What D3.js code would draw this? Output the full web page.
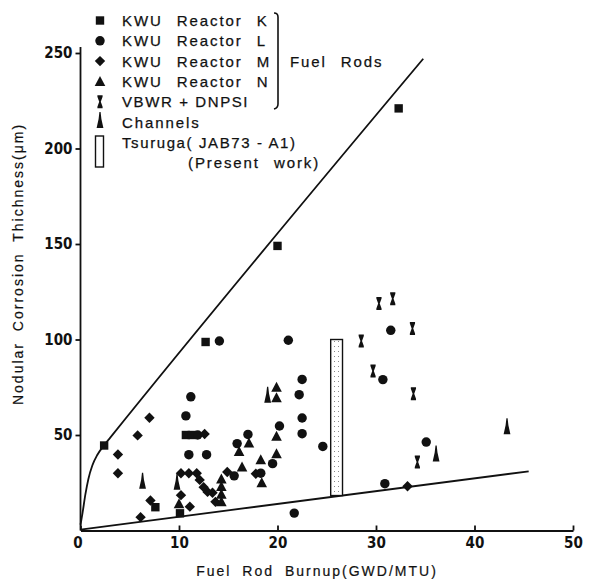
<!DOCTYPE html>
<html>
<head>
<meta charset="utf-8">
<script src="https://cdn.jsdelivr.net/npm/d3@7"></script>
<style>
  body { margin: 0; background: #fff; }
  svg { display: block; }
  .lbl { font-family: "Liberation Sans", Arial, sans-serif; font-size: 15px; letter-spacing: 1.9px; word-spacing: 8px; fill: #111; stroke: #111; stroke-width: 0.25px; }
  .lbl.tight { word-spacing: 0px; letter-spacing: 1.6px; }
  .ttl { font-family: "Liberation Sans", Arial, sans-serif; font-size: 14px; letter-spacing: 2px; word-spacing: 5px; fill: #111; stroke: #111; stroke-width: 0.2px; }
  .tick text { font-family: "DejaVu Sans Condensed", "DejaVu Sans", sans-serif; font-weight: bold; font-size: 15px; fill: #111; }
</style>
</head>
<body>
<svg id="chart" width="601" height="584"></svg>
<script>
// data: [burnup GWD/MTU, thickness um]
const reactorK = [[2.4, 44.5], [7.6, 12.2], [10.7, 50], [11.3, 50], [12.7, 98.7], [20.0, 149], [32.3, 221], [10.1, 9]];
const reactorL = [[14.1, 99.2], [11.2, 70], [10.7, 60], [11.9, 50], [11.0, 39.7], [12.8, 39.7], [21.1, 99.6],
  [22.5, 79.1], [22.2, 71.1], [22.5, 58.9], [20.2, 54.7], [22.5, 50.7], [17.0, 50.3], [15.9, 45.5],
  [24.6, 44], [21.7, 9.1], [31.5, 104.8], [30.7, 79], [35.1, 46.3], [30.9, 24.5], [19.5, 35], [18.3, 30], [15.6, 28.6]];
const reactorM = [[5.8, 49.8], [7.0, 59], [3.8, 39.8], [3.8, 30], [7.1, 15.7], [6.1, 7], [12.6, 50.5],
  [10.2, 30], [11.0, 30], [11.8, 30], [12.1, 26.5], [12.5, 22.7], [12.9, 20.2], [13.4, 19.8], [10.2, 18.5],
  [11.1, 12.5], [14.9, 30.6], [17.8, 29.7], [33.2, 23.2], [13.7, 15]];
const reactorN = [[16.1, 41.3], [17.1, 45.8], [19.9, 49.3], [19.9, 40.2], [18.3, 37], [18.4, 25], [19.9, 75],
  [19.9, 69.5], [16.4, 33.2], [14.3, 27], [14.3, 23], [14.3, 19], [14.3, 15], [10.0, 14]];
const vbwr = [[28.5, 99.2], [29.7, 83.5], [30.3, 118.8], [31.7, 121.4], [33.7, 105.7], [33.8, 71.6], [34.2, 35.8]];
const channels = [[6.3, 25], [9.8, 24.5], [19.0, 70], [36.1, 39.3], [43.3, 53.5]];

// envelope lines
const upperBound = [[0, 3], [0.2, 9], [0.5, 19], [0.8, 27], [1.2, 34], [1.7, 39.5], [2.3, 44], [3, 48.5], [34.8, 247]];
const lowerBound = [[0, 0.5], [45.5, 31]];

// Tsuruga (JAB73-A1) range: [burnup from, burnup to], [thickness from, to]
const tsurugaBurnup = [25.4, 26.6];
const tsurugaThick = [18.3, 100];

const xTicks = [0, 10, 20, 30, 40, 50];
const yTicks = [50, 100, 150, 200, 250];

const legendLabels = ["KWU  Reactor  K", "KWU  Reactor  L", "KWU  Reactor  M", "KWU  Reactor  N",
  "VBWR + DNPSI", "Channels", "Tsuruga( JAB73 - A1)", "(Present  work)"];

const svg = d3.select("#chart");

const x = d3.scaleLinear().domain([0, 50]).range([80.5, 573]);
const y = d3.scaleLinear().domain([0, 250]).range([530.5, 53]);

// axes
svg.append("g")
  .attr("transform", "translate(0,530.5)")
  .call(d3.axisBottom(x).tickValues(xTicks).tickSize(-5).tickSizeOuter(0).tickPadding(7))
  .call(g => g.selectAll("line,path").attr("stroke", "#111").attr("stroke-width", 1.8))
  .call(g => g.select(".tick text").attr("dx", -3));

svg.append("g")
  .attr("transform", "translate(80.5,0)")
  .call(d3.axisLeft(y).tickValues(yTicks).tickSize(5).tickSizeOuter(0).tickPadding(3))
  .call(g => g.selectAll("line,path").attr("stroke", "#111").attr("stroke-width", 1.8))
  .call(g => g.select(".domain").attr("d", "M0,530.5V47"));

svg.append("text").attr("class", "ttl")
  .attr("x", 317).attr("y", 576).attr("text-anchor", "middle")
  .text("Fuel  Rod  Burnup(GWD/MTU)");

svg.append("text").attr("class", "ttl")
  .attr("transform", "translate(23,264) rotate(-90)").attr("text-anchor", "middle")
  .text("Nodular  Corrosion  Thichness(\u03bcm)");

// envelope lines
const line = d3.line().x(d => x(d[0])).y(d => y(d[1])).curve(d3.curveMonotoneX);
svg.append("path").datum(upperBound).attr("d", line)
  .attr("fill", "none").attr("stroke", "#111").attr("stroke-width", 1.8);
svg.append("path").datum(lowerBound).attr("d", line)
  .attr("fill", "none").attr("stroke", "#111").attr("stroke-width", 1.8);

// stipple for Tsuruga bar
const pat = svg.append("defs").append("pattern")
  .attr("id", "stip").attr("width", 4).attr("height", 5).attr("patternUnits", "userSpaceOnUse");
pat.append("rect").attr("width", 4).attr("height", 5).attr("fill", "#fff");
pat.append("rect").attr("x", 2).attr("y", 1).attr("width", 1).attr("height", 1).attr("fill", "#888");

svg.append("rect")
  .attr("x", x(tsurugaBurnup[0])).attr("y", y(tsurugaThick[1]))
  .attr("width", x(tsurugaBurnup[1]) - x(tsurugaBurnup[0]))
  .attr("height", y(tsurugaThick[0]) - y(tsurugaThick[1]))
  .attr("fill", "url(#stip)").attr("stroke", "#111").attr("stroke-width", 1.4);

// marker shapes
const shapes = {
  square: "M-4.2,-4.2H4.2V4.2H-4.2Z",
  circle: d3.symbol(d3.symbolCircle, 70)(),
  diamond: "M0,-5.2L5.2,0L0,5.2L-5.2,0Z",
  triangle: "M0,-5.5L5.3,4.5H-5.3Z",
  vbwr: "M-2.6,-6.5H2.6V-5L0.8,0L2.6,5V6.5H-2.6V5L-0.8,0L-2.6,-5Z",
  channel: "M-0.6,-10H0.6L1.4,-3L3.4,6H-3.4L-1.4,-3Z"
};

const series = [
  [reactorK, "square"], [reactorL, "circle"], [reactorM, "diamond"],
  [reactorN, "triangle"], [vbwr, "vbwr"], [channels, "channel"]
];

series.forEach(([data, shape]) => {
  svg.append("g").selectAll("path")
    .data(data)
    .join("path")
    .attr("d", shapes[shape])
    .attr("transform", d => `translate(${x(d[0])},${y(d[1])})`)
    .attr("fill", "#111");
});

// legend
const legendShapes = ["square", "circle", "diamond", "triangle", "vbwr", "channel"];
const rowY = i => 20.5 + i * 20.3;
const lg = svg.append("g");
legendShapes.forEach((s, i) => {
  lg.append("path").attr("d", shapes[s])
    .attr("transform", `translate(100,${rowY(i)})`).attr("fill", "#111");
});
lg.append("rect").attr("x", 95.5).attr("y", 136).attr("width", 8).attr("height", 31)
  .attr("fill", "#fff").attr("stroke", "#111").attr("stroke-width", 1.4);
legendLabels.forEach((t, i) => {
  lg.append("text").attr("class", (i === 4 || i === 6) ? "lbl tight" : "lbl")
    .attr("x", i === 7 ? 188 : 122).attr("y", rowY(i) + 5.5)
    .text(t);
});
// bracket for fuel rods
lg.append("path")
  .attr("d", "M274,13Q278,13 278,17V104Q278,108 274,109")
  .attr("fill", "none").attr("stroke", "#111").attr("stroke-width", 1.6);
lg.append("text").attr("class", "lbl").attr("x", 290).attr("y", 67).text("Fuel  Rods");
</script>
</body>
</html>
